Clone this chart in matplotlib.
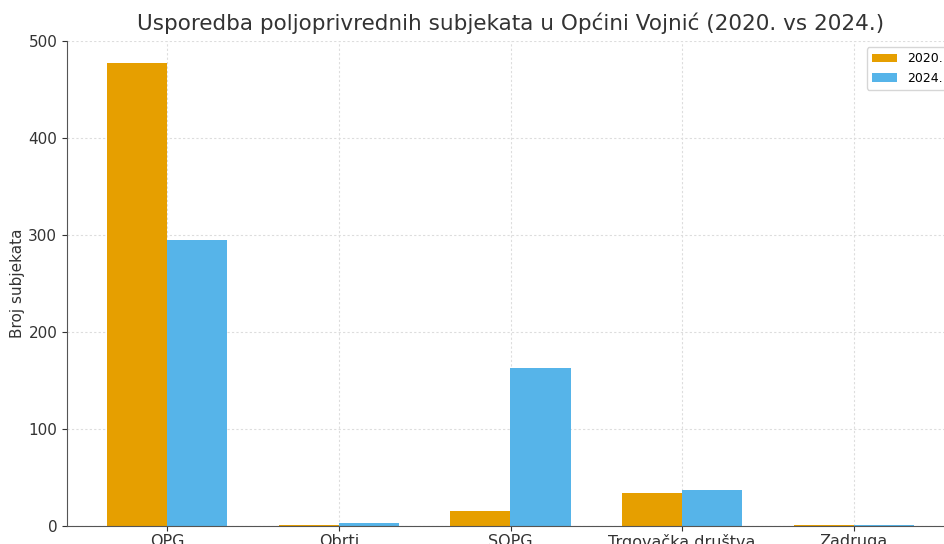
import matplotlib
matplotlib.use("Agg")
import matplotlib.pyplot as plt
import numpy as np

categories = ["OPG", "Obrti", "SOPG", "Trgovačka društva", "Zadruga"]
values_2020 = [477, 1, 15, 34, 1]
values_2024 = [295, 3, 163, 37, 1]
series_labels = ["2020.", "2024."]

fig = plt.figure(figsize=(9.45, 5.44), dpi=100)
ax = fig.add_axes([67/945, 18/544, (954-67)/945, (526-41)/544])

x = np.arange(len(categories))
w = 0.35
ax.bar(x - w/2, values_2020, w, color="#E69F00", label=series_labels[0], zorder=2)
ax.bar(x + w/2, values_2024, w, color="#56B4E9", label=series_labels[1], zorder=2)

ax.set_xticks(x)
ax.set_xticklabels(categories, fontsize=11.5, color="#333333")
ax.set_ylim(0, 500)
ax.set_yticks([0, 100, 200, 300, 400, 500])
ax.tick_params(axis="y", labelsize=11, colors="#333333")
ax.tick_params(axis="x", colors="#333333", pad=2)
ax.set_ylabel("Broj subjekata", fontsize=11, color="#333333", labelpad=2)
ax.set_title("Usporedba poljoprivrednih subjekata u Općini Vojnić (2020. vs 2024.)",
             fontsize=15.5, color="#333333", pad=8)
ax.grid(True, linestyle=(0, (2, 2)), color="#dddddd", linewidth=0.8, zorder=0)
for s in ["top", "right"]:
    ax.spines[s].set_visible(False)
ax.spines["left"].set_color("#555555")
ax.spines["bottom"].set_color("#555555")
ax.legend(loc="upper right", fontsize=9, frameon=True, edgecolor="#cccccc")

fig.savefig("out.png", dpi=100)
